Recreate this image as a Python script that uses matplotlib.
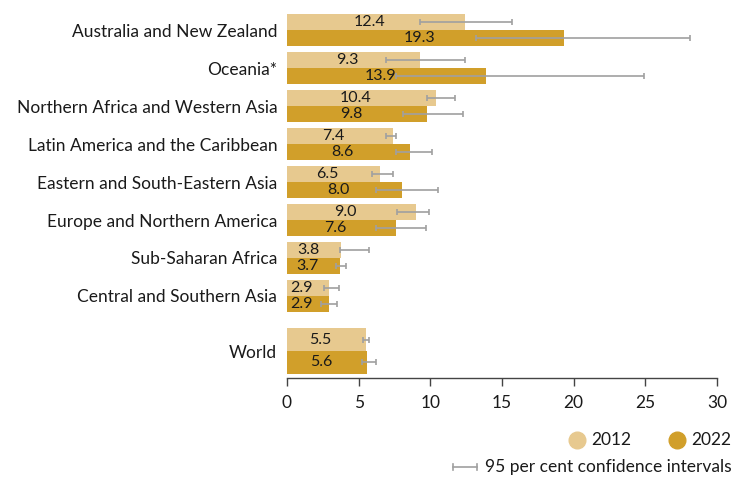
import matplotlib
matplotlib.use("Agg")
import matplotlib.pyplot as plt
from matplotlib.lines import Line2D
import numpy as np

plt.rcParams['font.family'] = ['Lato', 'DejaVu Sans']

categories = ["Australia and New Zealand", "Oceania*", "Northern Africa and Western Asia",
              "Latin America and the Caribbean", "Eastern and South-Eastern Asia",
              "Europe and Northern America", "Sub-Saharan Africa", "Central and Southern Asia",
              "World"]
v2012 = [12.4, 9.3, 10.4, 7.4, 6.5, 9.0, 3.8, 2.9, 5.5]
v2022 = [19.3, 13.9, 9.8, 8.6, 8.0, 7.6, 3.7, 2.9, 5.6]
lo2012 = [9.3, 6.9, 9.8, 6.9, 5.9, 7.7, 3.7, 2.6, 5.3]
hi2012 = [15.7, 12.4, 11.7, 7.6, 7.4, 9.9, 5.7, 3.6, 5.7]
lo2022 = [13.2, 7.6, 8.1, 7.6, 6.2, 6.2, 3.4, 2.4, 5.2]
hi2022 = [28.1, 24.9, 12.3, 10.1, 10.5, 9.7, 4.1, 3.5, 6.2]
xticks = [0, 5, 10, 15, 20, 25, 30]

c2012 = "#E7C98F"
c2022 = "#D19F2A"
ecol = "#A0A0A0"
tcol = "#1a1a1a"
fs = 12.5
vfs = 11.5

W, H = 748, 478
fig = plt.figure(figsize=(W / 100, H / 100), dpi=100)
ax = fig.add_axes([287 / W, (H - 378) / H, (717 - 287) / W, (378 - 10) / H])

n = len(categories)
pos = np.array([i * 1.0 for i in range(n - 1)] + [(n - 2) + 1.45])
hgt = np.array([0.42] * (n - 1) + [0.6])

y12 = pos - hgt / 2
y22 = pos + hgt / 2
ax.barh(y12, v2012, height=hgt, color=c2012, zorder=2)
ax.barh(y22, v2022, height=hgt, color=c2022, zorder=2)

for yy, lo, hi, v in [(y12, lo2012, hi2012, v2012), (y22, lo2022, hi2022, v2022)]:
    v = np.array(v); lo = np.array(lo); hi = np.array(hi)
    ax.errorbar(v, yy, xerr=[v - lo, hi - v], fmt='none', ecolor=ecol, elinewidth=1.2,
                capsize=2.5, capthick=1.2, zorder=3)
    for x, y in zip(v, yy):
        ax.annotate(f"{x:.1f}", (x / 2, y), xytext=(-4.5, 0), textcoords='offset points',
                    ha='center', va='center', fontsize=vfs, color=tcol, zorder=4)

ax.set_ylim(9.16, -0.53)
ax.set_xlim(0, 30)
ax.set_yticks(pos)
ax.set_yticklabels(categories, fontsize=fs, color=tcol)
ax.tick_params(axis='y', length=0, pad=7)
ax.set_xticks(xticks)
ax.set_xticklabels([str(t) for t in xticks], fontsize=fs, color=tcol)
ax.tick_params(axis='x', length=6, width=1, color='#444444', pad=6)
for s in ['top', 'right', 'left']:
    ax.spines[s].set_visible(False)
ax.spines['bottom'].set_color('#444444')
ax.spines['bottom'].set_linewidth(1)

# Legend
def fx(px):
    return px / W

def fy(py):
    return 1 - py / H

for cx, col, lab in [(577, c2012, "2012"), (677, c2022, "2022")]:
    fig.add_artist(Line2D([fx(cx)], [fy(440)], marker='o', markersize=12, color=col,
                          transform=fig.transFigure, linestyle='none'))
    fig.text(fx(cx + 14), fy(440), lab, fontsize=fs, va='center', ha='left', color=tcol)

fig.add_artist(Line2D([fx(453), fx(477)], [fy(467), fy(467)], color=ecol, lw=1.2,
                      transform=fig.transFigure))
for xx in (453, 477):
    fig.add_artist(Line2D([fx(xx), fx(xx)], [fy(464), fy(470)], color=ecol, lw=1.2,
                          transform=fig.transFigure))
fig.text(fx(485), fy(467), "95 per cent confidence intervals", fontsize=fs, va='center',
         ha='left', color=tcol)

fig.savefig("out.png", dpi=100)
